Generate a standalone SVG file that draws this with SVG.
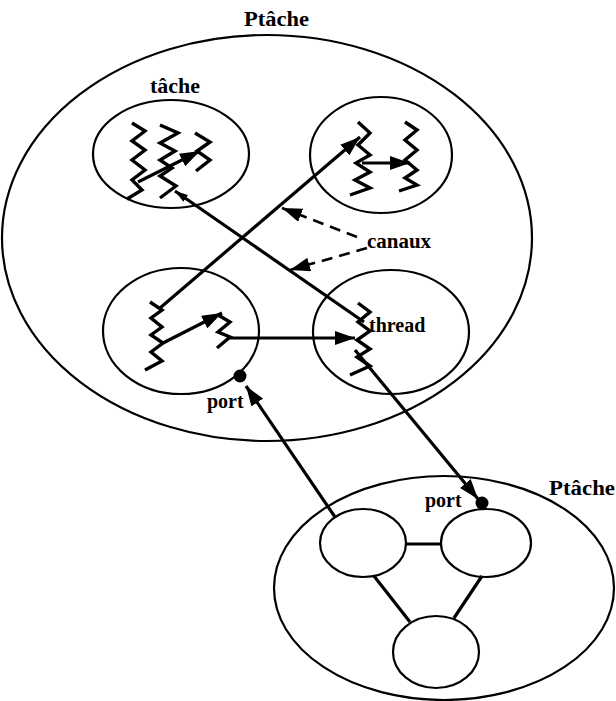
<svg xmlns="http://www.w3.org/2000/svg" width="616" height="701" viewBox="0 0 616 701">
<defs>
<style>
.ell{fill:none;stroke:#000;stroke-width:2.2}
.zz{fill:none;stroke:#000;stroke-width:3.4;stroke-linejoin:miter}
.ln{fill:none;stroke:#000;stroke-width:3.2}
.dash{fill:none;stroke:#000;stroke-width:2.6;stroke-dasharray:11 7}
.lbl{font-family:"Liberation Serif","Times New Roman",serif;font-weight:bold;font-size:20px;fill:#000}
</style>
<marker id="ah" markerUnits="userSpaceOnUse" markerWidth="22" markerHeight="14" refX="20" refY="7" orient="auto"><path d="M0,0 L20,7 L0,14 z" fill="#000"/></marker>
<marker id="ahs" markerUnits="userSpaceOnUse" markerWidth="14" markerHeight="10" refX="13" refY="4" orient="auto"><path d="M0,0 L13,4 L0,8 z" fill="#000"/></marker>
</defs>
<rect width="616" height="701" fill="#fff"/>

<g id="ptache-main">
<ellipse class="ell" cx="267" cy="238" rx="265" ry="203"/>
<text class="lbl" x="244" y="26" textLength="65" lengthAdjust="spacingAndGlyphs">Ptâche</text>
</g>

<g id="tache-top-left">
<ellipse class="ell" cx="171" cy="154" rx="78" ry="54"/>
<text class="lbl" x="150" y="93" textLength="50" lengthAdjust="spacingAndGlyphs">tâche</text>
<polyline class="zz" points="132,123 145,131 132,141 145,150 132,160 145,170 132,180 142,190 127,199"/>
<polyline class="zz" points="160,125 178,133 160,143 175,151 160,160 172,168 160,176 176,186 160,198"/>
<polyline class="zz" points="195,133 210,142 197,151 210,160 196,171"/>
</g>

<g id="tache-top-right">
<ellipse class="ell" cx="381" cy="155" rx="71" ry="58"/>
<polyline class="zz" points="358,122 370,133 358,145 370,155 356,163 370,172 355,180 370,188 350,195"/>
<polyline class="zz" points="405,122 417,130 405,140 417,150 405,160 417,170 405,178 417,185 399,191"/>
</g>

<g id="tache-bottom-left">
<ellipse class="ell" cx="181" cy="331" rx="78" ry="63"/>
<polyline class="zz" points="150,302 162,310 151,318 162,327 151,335 163,343 151,352 162,361 145,370"/>
<polyline class="zz" points="218,315 230,322 218,332 230,337 217,348"/>
</g>

<g id="tache-bottom-right">
<ellipse class="ell" cx="391" cy="332" rx="78" ry="62"/>
<polyline class="zz" points="358,303 370,312 358,322 370,331 357,340 370,349 357,357 370,366 350,375"/>
<text class="lbl" x="369" y="332">thread</text>
</g>

<g id="ptache-second">
<ellipse class="ell" cx="444" cy="588" rx="170" ry="112"/>
<text class="lbl" x="549" y="495" textLength="66" lengthAdjust="spacingAndGlyphs">Ptâche</text>
</g>
<g id="node-a"><ellipse class="ell" cx="363" cy="543" rx="43" ry="34"/></g>
<g id="node-b"><ellipse class="ell" cx="486" cy="543" rx="45" ry="34"/></g>
<g id="node-c"><ellipse class="ell" cx="436" cy="652" rx="43" ry="36"/></g>

<g id="ports">
<circle cx="240" cy="376" r="6.5" fill="#000"/>
<text class="lbl" x="207" y="408">port</text>
<circle cx="482" cy="503" r="6.5" fill="#000"/>
<text class="lbl" x="425" y="507">port</text>
</g>

<g id="connectors">
<line class="ln" x1="160" y1="308" x2="360" y2="137" marker-end="url(#ah)"/>
<line class="ln" x1="364" y1="322" x2="175" y2="191" marker-end="url(#ahs)"/>
<line class="ln" x1="355" y1="350" x2="478" y2="499" marker-end="url(#ah)"/>
<line class="ln" x1="335" y1="517" x2="246" y2="386" marker-end="url(#ah)"/>
<line class="ln" x1="227" y1="338" x2="355" y2="338" marker-end="url(#ah)"/>
<line class="ln" x1="163" y1="343" x2="222" y2="313" marker-end="url(#ah)"/>
<line class="ln" x1="138" y1="182" x2="200" y2="151" marker-end="url(#ah)"/>
<line class="ln" x1="362" y1="163" x2="410" y2="163" marker-end="url(#ah)"/>
<line class="dash" x1="357" y1="237" x2="282" y2="208" marker-end="url(#ah)"/>
<line class="dash" x1="367" y1="248" x2="290" y2="270" marker-end="url(#ah)"/>
<line class="ln" x1="406" y1="544" x2="441" y2="544"/>
<line class="ln" x1="374" y1="576" x2="410" y2="622"/>
<line class="ln" x1="482" y1="576" x2="454" y2="618"/>
<text class="lbl" x="367" y="248" textLength="64" lengthAdjust="spacingAndGlyphs">canaux</text>
</g>
</svg>
